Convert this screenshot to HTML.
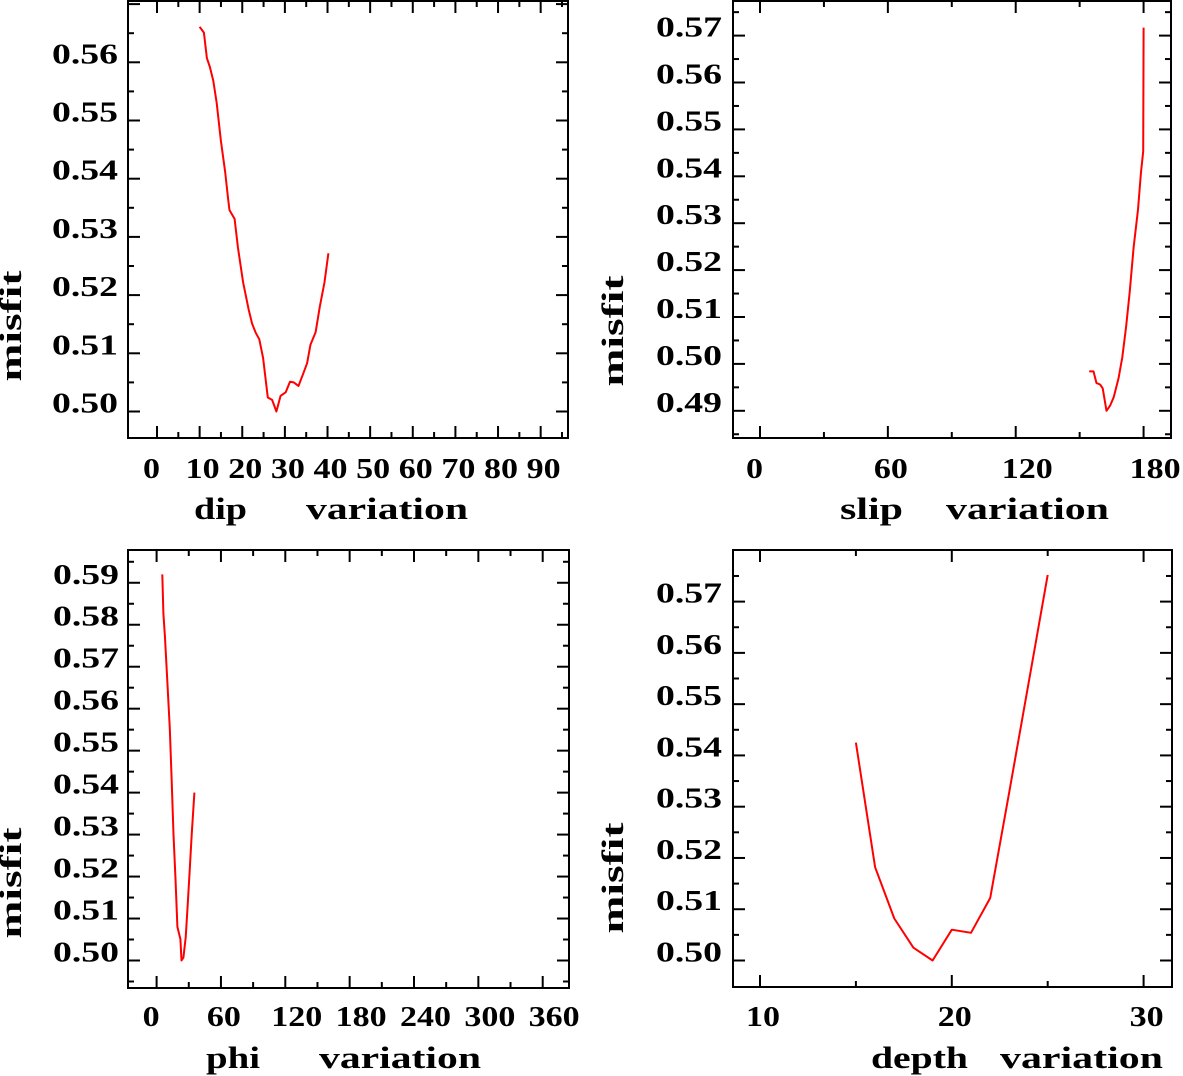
<!DOCTYPE html>
<html><head><meta charset="utf-8"><style>
html,body{margin:0;padding:0;background:#fff;}
svg{display:block;}
text{font-family:"Liberation Serif",serif;font-weight:bold;fill:#000;}
</style></head><body>
<svg id="chart" width="1183" height="1076" viewBox="0 0 1183 1076" xmlns="http://www.w3.org/2000/svg"></svg>
<script>
// ---- data ----
const dipX = [10,11,11.7,12.4,13.2,14,15,16,16.7,17,18.2,19,20.2,21.5,22.3,23.1,24,24.9,26,27,28,29,30.2,31.2,32.1,33.2,34.3,35.2,36,37.2,38.2,39.3,40.2];
const dipY = [0.5661,0.5651,0.5607,0.5592,0.5568,0.553,0.5465,0.5411,0.5364,0.5346,0.5331,0.5281,0.5222,0.5175,0.5151,0.5136,0.5124,0.5092,0.5024,0.5020,0.5000,0.5027,0.5033,0.5051,0.5050,0.5044,0.5065,0.5083,0.5115,0.5136,0.5180,0.5222,0.5272];
const slipX = [154.5,156.5,157.9,159.6,160.8,162.6,164.3,166,168.3,170,171.8,173.5,175.3,177.4,178.8,179.8,180];
const slipY = [0.4984,0.4984,0.4959,0.4956,0.4948,0.4900,0.4911,0.4929,0.4970,0.5014,0.5079,0.5153,0.5248,0.5329,0.5409,0.5453,0.5717];
const phiX = [5.3,6.3,7.7,9.9,12.3,14.1,15.8,17.6,19.4,22.2,23.2,25,27.1,28.9,31,32.7,35.2];
const phiY = [0.5920,0.5826,0.5773,0.5671,0.5553,0.5427,0.5300,0.5194,0.5080,0.5051,0.5000,0.5007,0.5055,0.5129,0.5219,0.5300,0.5400];
const depthX = [15,16,17,18,19,20,21,22,23,24,25];
const depthY = [0.5425,0.5182,0.5082,0.5025,0.5000,0.5060,0.5054,0.5122,0.5329,0.5540,0.5752];
const dipTicks = [0,10,20,30,40,50,60,70,80,90];
const slipTicks = [0,60,120,180];
const phiTicks = [0,60,120,180,240,300,360];
const depthTicks = [10,20,30];
const dipYTicks = [0.50,0.51,0.52,0.53,0.54,0.55,0.56];
const slipYTicks = [0.49,0.50,0.51,0.52,0.53,0.54,0.55,0.56,0.57];
const phiYTicks = [0.50,0.51,0.52,0.53,0.54,0.55,0.56,0.57,0.58,0.59];
const depthYTicks = [0.50,0.51,0.52,0.53,0.54,0.55,0.56,0.57];

const NS = "http://www.w3.org/2000/svg";
const svg = document.getElementById('chart');
function el(tag, attrs, parent){const e=document.createElementNS(NS,tag);for(const k in attrs)e.setAttribute(k,attrs[k]);(parent||svg).appendChild(e);return e;}

function panel(p){
  const g = el('g',{});
  
  
  const sx = v => p.x0 + (v - p.xv0) * p.xs;
  const sy = v => p.y0 - (v - p.yv0) * p.ys;
  const fr = el('rect',{x:p.L,y:p.T,width:p.R-p.L,height:p.B-p.T,fill:'none',stroke:'#000','stroke-width':2},g);
  
  
  const xstep = p.xMinor;
  const xMajor = p.xTicks[1]-p.xTicks[0];
  for(let v=p.xTicks[0]; sx(v) < p.R-3; v += xstep){
    const X = sx(v); if (X < p.L+3) continue;
    const isMaj = Math.abs(((v - p.xTicks[0]) / xMajor) - Math.round((v - p.xTicks[0]) / xMajor)) < 1e-6;
    const len = isMaj ? 12 : 6;
    el('line',{x1:X,y1:p.B,x2:X,y2:p.B-len,stroke:'#000','stroke-width':2},g);
    el('line',{x1:X,y1:p.T,x2:X,y2:p.T+len,stroke:'#000','stroke-width':2},g);
  }
  for(let v=p.yTicks[0]-0.01; sy(v) > p.T+3; v += 0.005){
    const Y = sy(v); if (Y > p.B-3) continue;
    const isMaj = Math.abs(v*100 - Math.round(v*100)) < 1e-6;
    const len = isMaj ? 12 : 6;
    el('line',{x1:p.R,y1:Y,x2:p.R-len,y2:Y,stroke:'#000','stroke-width':2},g);
    el('line',{x1:p.L,y1:Y,x2:p.L+len,y2:Y,stroke:'#000','stroke-width':2},g);
  }
  p.yTicks.forEach(v=>{
    const t = el('text',{x:p.ylabR,y:sy(v)+1,'text-anchor':'end','font-size':29,textLength:66,lengthAdjust:'spacingAndGlyphs'},g);
    t.textContent = v.toFixed(2);
    
    
  });
  p.xTicks.forEach(v=>{
    const s = String(v);
    const t = el('text',{x:sx(v)-14,y:p.xlabY,'text-anchor':'start','font-size':29,textLength:s.length*17,lengthAdjust:'spacingAndGlyphs'},g);
    t.textContent = s;
    
    
  });
  const t1 = el('text',{x:p.t1x,y:p.titleY,'font-size':31,textLength:p.t1w,lengthAdjust:'spacingAndGlyphs'},g);
  t1.textContent = p.t1;
  
  
  const t2 = el('text',{x:p.t2x,y:p.titleY,'font-size':31,textLength:p.t2w,lengthAdjust:'spacingAndGlyphs'},g);
  t2.textContent = 'variation';
  
  
  const yt = el('text',{x:0,y:0,'font-size':31,'text-anchor':'middle',textLength:111,lengthAdjust:'spacingAndGlyphs',transform:'translate('+p.misX+','+p.misY+') rotate(-90)'},g);
  yt.textContent = 'misfit';
  
  
  const pts = p.xs_.map((x,i)=>sx(x).toFixed(1)+','+sy(p.ys_[i]).toFixed(1)).join(' ');
  const pl = el('polyline',{points:pts,fill:'none',stroke:'#ff0000','stroke-width':2,'stroke-linejoin':'round'},g);
  
  
}

panel({name:'dip',L:128,R:568,T:1,B:438,x0:157,xv0:0,xs:4.263,y0:411.5,yv0:0.50,ys:5820,
  xTicks:dipTicks,xMinor:5,yTicks:dipYTicks,ylabR:118,xlabY:478,
  t1:'dip',t1x:194,t1w:53,t2x:306,t2w:162,titleY:519,misX:21,misY:326,xs_:dipX,ys_:dipY});
panel({name:'slip',L:733,R:1171,T:1,B:438,x0:760,xv0:0,xs:2.131,y0:410.8,yv0:0.49,ys:4690,
  xTicks:slipTicks,xMinor:30,yTicks:slipYTicks,ylabR:722,xlabY:478,
  t1:'slip',t1x:840,t1w:63,t2x:946,t2w:163,titleY:519,misX:623,misY:331,xs_:slipX,ys_:slipY});
panel({name:'phi',L:128,R:569,T:550,B:988,x0:156.6,xv0:0,xs:1.0725,y0:960.5,yv0:0.50,ys:4197,
  xTicks:phiTicks,xMinor:30,yTicks:phiYTicks,ylabR:119,xlabY:1026,
  t1:'phi',t1x:206,t1w:54,t2x:319,t2w:162,titleY:1068,misX:21,misY:883,xs_:phiX,ys_:phiY});
panel({name:'depth',L:733,R:1172,T:550,B:987,x0:760,xv0:10,xs:19.18,y0:960.5,yv0:0.50,ys:5127,
  xTicks:depthTicks,xMinor:5,yTicks:depthYTicks,ylabR:722,xlabY:1026,
  t1:'depth',t1x:871,t1w:97,t2x:1000,t2w:163,titleY:1068,misX:623,misY:878,xs_:depthX,ys_:depthY});
</script>
</body></html>
